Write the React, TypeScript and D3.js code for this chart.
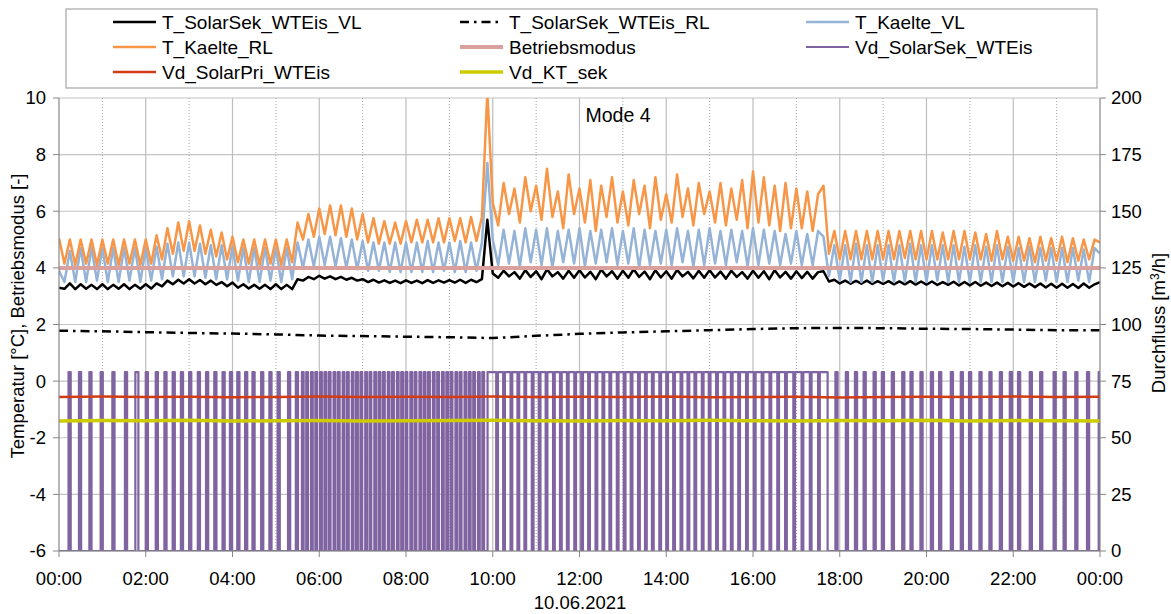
import React from "react";
import * as d3 from "d3";

// time axis: 7.5-minute samples over the day (hours)
const sampleHours = d3.range(0, 193).map((i) => i / 8);

const hourTicks = [0, 2, 4, 6, 8, 10, 12, 14, 16, 18, 20, 22, 24];
const hourLabels = ["00:00", "02:00", "04:00", "06:00", "08:00", "10:00", "12:00", "14:00", "16:00", "18:00", "20:00", "22:00", "00:00"];
const minorHours = [1, 3, 5, 7, 9, 11, 13, 15, 17, 19, 21, 23];
const tempTicks = [-6, -4, -2, 0, 2, 4, 6, 8, 10];
const flowTicks = [0, 25, 50, 75, 100, 125, 150, 175, 200];

// T_SolarSek_WTEis_VL [°C]
const solarSekVL = [
  3.3, 3.26, 3.45, 3.25, 3.42, 3.26, 3.4, 3.25,
  3.42, 3.25, 3.4, 3.26, 3.42, 3.25, 3.4, 3.26,
  3.42, 3.27, 3.45, 3.35, 3.55, 3.42, 3.58, 3.45,
  3.6, 3.45, 3.57, 3.42, 3.55, 3.4, 3.5, 3.35,
  3.48, 3.3, 3.42, 3.27, 3.4, 3.26, 3.4, 3.25,
  3.42, 3.25, 3.4, 3.25, 3.6, 3.55, 3.68, 3.6,
  3.72, 3.62, 3.7, 3.6, 3.68, 3.58, 3.65, 3.55,
  3.6, 3.5, 3.58, 3.48, 3.56, 3.47, 3.55, 3.46,
  3.56, 3.47, 3.55, 3.46, 3.57, 3.47, 3.56, 3.48,
  3.57, 3.48, 3.58, 3.47, 3.58, 3.5, 3.6, 5.7,
  3.8, 3.65, 3.9, 3.7, 3.85, 3.62, 3.92, 3.68,
  3.88, 3.6, 3.95, 3.7, 3.85, 3.62, 3.9, 3.65,
  3.92, 3.66, 3.86, 3.6, 3.94, 3.7, 3.88, 3.62,
  3.9, 3.65, 3.95, 3.68, 3.87, 3.6, 3.92, 3.66,
  3.88, 3.62, 3.93, 3.7, 3.86, 3.63, 3.9, 3.65,
  3.92, 3.66, 3.87, 3.62, 3.9, 3.68, 3.85, 3.62,
  3.9, 3.65, 3.88, 3.6, 3.92, 3.66, 3.86, 3.62,
  3.88, 3.64, 3.86, 3.62, 3.85, 3.88, 3.52, 3.58,
  3.45, 3.55, 3.44, 3.54, 3.44, 3.55, 3.43, 3.53,
  3.43, 3.53, 3.42, 3.52, 3.42, 3.53, 3.41, 3.52,
  3.41, 3.52, 3.4, 3.5, 3.4, 3.51, 3.38, 3.5,
  3.38, 3.5, 3.37, 3.48, 3.36, 3.48, 3.35, 3.47,
  3.34, 3.46, 3.33, 3.45, 3.32, 3.45, 3.31, 3.44,
  3.3, 3.44, 3.3, 3.43, 3.29, 3.45, 3.3, 3.42,
  3.5,
];

// T_SolarSek_WTEis_RL [°C], hourly
const rlHours = d3.range(0, 25);
const solarSekRL = [1.78, 1.76, 1.73, 1.7, 1.68, 1.65, 1.61, 1.59, 1.57, 1.55, 1.52, 1.6, 1.67, 1.72, 1.76, 1.8, 1.84, 1.87, 1.88, 1.87, 1.85, 1.84, 1.82, 1.8, 1.8];

// T_Kaelte_VL [°C]
const kaelteVL = [
  3.9, 3.5, 4.6, 3.5, 4.7, 3.5, 4.7, 3.55,
  4.7, 3.5, 4.7, 3.5, 4.7, 3.55, 4.7, 3.5,
  4.7, 3.55, 4.75, 3.6, 4.85, 3.7, 4.9, 3.7,
  4.9, 3.7, 4.85, 3.65, 4.8, 3.6, 4.8, 3.6,
  4.75, 3.55, 4.7, 3.5, 4.7, 3.5, 4.7, 3.55,
  4.7, 3.5, 4.7, 3.6, 4.9, 4.0, 5.0, 4.05,
  5.1, 4.1, 5.1, 4.05, 5.05, 4.0, 5.0, 3.95,
  4.95, 3.9, 4.9, 3.9, 4.9, 3.85, 4.9, 3.85,
  4.9, 3.85, 4.9, 3.85, 4.95, 3.85, 4.9, 3.9,
  4.9, 3.85, 4.95, 3.85, 4.9, 3.9, 4.9, 7.7,
  5.0, 4.1, 5.35, 4.15, 5.3, 4.05, 5.4, 4.2,
  5.35, 4.1, 5.4, 4.0, 5.3, 4.2, 5.35, 4.15,
  5.4, 4.05, 5.3, 4.15, 5.35, 4.2, 5.4, 4.1,
  5.3, 4.15, 5.4, 4.0, 5.35, 4.1, 5.3, 4.15,
  5.35, 4.1, 5.4, 4.2, 5.3, 4.05, 5.35, 4.1,
  5.4, 4.15, 5.3, 4.1, 5.35, 4.2, 5.3, 4.05,
  5.4, 4.1, 5.35, 4.15, 5.3, 4.1, 5.2, 4.15,
  5.3, 4.1, 5.2, 4.1, 5.3, 5.1, 3.7, 4.8,
  3.55, 4.8, 3.5, 4.85, 3.5, 4.8, 3.5, 4.8,
  3.55, 4.8, 3.5, 4.8, 3.5, 4.85, 3.5, 4.8,
  3.5, 4.8, 3.55, 4.8, 3.5, 4.8, 3.5, 4.75,
  3.5, 4.8, 3.5, 4.75, 3.5, 4.8, 3.5, 4.75,
  3.5, 4.7, 3.5, 4.75, 3.5, 4.7, 3.55, 4.7,
  3.5, 4.7, 3.5, 4.7, 3.55, 4.65, 3.5, 4.7,
  4.5,
];

// T_Kaelte_RL [°C]
const kaelteRL = [
  5.05, 4.15, 5.0, 4.1, 5.0, 4.15, 5.0, 4.1,
  5.0, 4.15, 5.0, 4.1, 5.0, 4.15, 5.0, 4.1,
  5.0, 4.15, 5.15, 4.3, 5.4, 4.5, 5.6, 4.6,
  5.65, 4.6, 5.5, 4.5, 5.35, 4.4, 5.25, 4.3,
  5.1, 4.2, 5.0, 4.15, 5.0, 4.1, 5.0, 4.15,
  5.0, 4.1, 5.0, 4.2, 5.6, 5.0, 5.9, 5.1,
  6.1, 5.2, 6.2, 5.15, 6.2, 5.1, 6.1, 5.0,
  5.9, 4.9, 5.75, 4.85, 5.65, 4.85, 5.6, 4.85,
  5.65, 4.9, 5.7, 4.9, 5.7, 4.9, 5.75, 4.9,
  5.75, 4.95, 5.75, 4.9, 5.8, 4.95, 5.8, 10.2,
  6.3, 5.5, 7.0, 5.9, 6.8, 5.6, 7.2, 6.0,
  6.9, 5.7, 7.5, 5.8, 6.7, 5.4, 7.3, 5.9,
  6.8, 5.6, 7.1, 5.3, 6.9, 5.8, 7.2, 5.6,
  6.7, 5.5, 7.1, 5.9, 6.9, 5.4, 7.2, 5.7,
  6.6, 5.6, 7.3, 5.8, 6.8, 5.5, 7.0, 5.9,
  6.7, 5.6, 7.0, 5.5, 6.8, 5.7, 7.1, 5.4,
  7.4, 5.6, 7.2, 5.5, 6.9, 5.3, 7.0, 5.4,
  6.8, 5.4, 6.7, 5.3, 6.6, 6.9, 4.5, 5.3,
  4.3, 5.3, 4.3, 5.3, 4.3, 5.3, 4.3, 5.3,
  4.3, 5.3, 4.3, 5.3, 4.35, 5.3, 4.3, 5.3,
  4.3, 5.3, 4.3, 5.25, 4.3, 5.3, 4.3, 5.3,
  4.3, 5.25, 4.3, 5.2, 4.25, 5.3, 4.3, 5.1,
  4.25, 5.1, 4.25, 5.05, 4.2, 5.1, 4.25, 5.05,
  4.25, 5.1, 4.2, 5.05, 4.25, 5.0, 4.3, 5.0,
  4.9,
];

// Betriebsmodus [-]
const modeHours = [0, 24];
const betriebsmodus = [4, 4];

// Vd_SolarSek_WTEis: pump on-intervals [start h, end h], flow when on [m³/h]
const solarSekOnFlow = 79;
const solarSekOn: [number, number][] = [
  [0.22, 0.27], [0.46, 0.51], [0.7, 0.75], [0.96, 1.01], [1.23, 1.28], [1.52, 1.57], [1.76, 1.83], [2.0, 2.05],
  [2.23, 2.28], [2.43, 2.48], [2.62, 2.67], [2.81, 2.86], [3.0, 3.05], [3.2, 3.25], [3.39, 3.44], [3.58, 3.63],
  [3.77, 3.82], [3.94, 3.99], [4.11, 4.16], [4.29, 4.34], [4.46, 4.51], [4.66, 4.71], [4.85, 4.9], [5.04, 5.09],
  [5.28, 5.33], [5.46, 5.51],
  [5.6, 5.64], [5.7, 5.74], [5.81, 5.85], [5.91, 5.95], [6.02, 6.06], [6.12, 6.16], [6.22, 6.26], [6.33, 6.37],
  [6.43, 6.47], [6.54, 6.58], [6.64, 6.68], [6.75, 6.79], [6.85, 6.89], [6.95, 6.99], [7.06, 7.1], [7.16, 7.2],
  [7.27, 7.31], [7.37, 7.41], [7.47, 7.51], [7.58, 7.62], [7.68, 7.72], [7.79, 7.83], [7.89, 7.93], [7.99, 8.03],
  [8.1, 8.14], [8.2, 8.24], [8.31, 8.35], [8.41, 8.45], [8.51, 8.55], [8.62, 8.66], [8.72, 8.76], [8.83, 8.87],
  [8.93, 8.97], [9.03, 9.07], [9.14, 9.18], [9.24, 9.28], [9.35, 9.39], [9.45, 9.49], [9.55, 9.59], [9.66, 9.7],
  [9.76, 9.8],
  [9.88, 10.08], [10.12, 10.24], [10.28, 10.41], [10.45, 10.57], [10.61, 10.73], [10.77, 10.9], [10.94, 11.06],
  [11.1, 11.22], [11.26, 11.39], [11.43, 11.55], [11.59, 11.71], [11.75, 11.88], [11.92, 12.04], [12.08, 12.2],
  [12.24, 12.37], [12.41, 12.53], [12.57, 12.69], [12.73, 12.86], [12.9, 13.02], [13.06, 13.18], [13.22, 13.35],
  [13.39, 13.51], [13.55, 13.67], [13.71, 13.84], [13.88, 14.0], [14.04, 14.16], [14.2, 14.33], [14.37, 14.49],
  [14.53, 14.65], [14.69, 14.82], [14.86, 14.98], [15.02, 15.15], [15.19, 15.32], [15.36, 15.49], [15.53, 15.66],
  [15.7, 15.84], [15.88, 16.02], [16.06, 16.2], [16.24, 16.38], [16.42, 16.56], [16.6, 16.74], [16.78, 16.93],
  [16.97, 17.12], [17.16, 17.31], [17.35, 17.5], [17.54, 17.72],
  [17.9, 17.95], [18.14, 18.19], [18.35, 18.4], [18.55, 18.6], [18.78, 18.83], [18.97, 19.02], [19.2, 19.25],
  [19.44, 19.49], [19.63, 19.68], [19.86, 19.91], [20.1, 20.15], [20.29, 20.34], [20.56, 20.61], [20.79, 20.84],
  [20.98, 21.03], [21.22, 21.27], [21.45, 21.5], [21.69, 21.74], [21.92, 21.97], [22.11, 22.16], [22.38, 22.43],
  [22.62, 22.67], [22.93, 22.98], [23.16, 23.21], [23.43, 23.48], [23.7, 23.75], [23.97, 24.0],
];

// Vd_SolarPri_WTEis and Vd_KT_sek [m³/h], hourly
const flowHours = d3.range(0, 25);
const solarPriFlow = [68, 68.2, 68, 68.1, 67.9, 68, 68.2, 68, 68.1, 68, 68.2, 68, 68.1, 68, 68.2, 67.9, 68, 68.1, 67.8, 68, 68.1, 68, 68.2, 68, 68.1];
const ktSekFlow = [57.4, 57.6, 57.5, 57.7, 57.4, 57.5, 57.6, 57.4, 57.5, 57.6, 57.7, 57.5, 57.4, 57.6, 57.5, 57.7, 57.5, 57.4, 57.6, 57.5, 57.7, 57.4, 57.6, 57.5, 57.4];

const W = 1171;
const H = 614;
const left = 59;
const right = 1100;
const top = 98;
const bottom = 551;
const font = "'Liberation Sans', Arial, sans-serif";

const x = d3.scaleLinear().domain([0, 24]).range([left, right]);
const yT = d3.scaleLinear().domain([-6, 10]).range([bottom, top]);
const yF = d3.scaleLinear().domain([0, 200]).range([bottom, top]);

type Pt = [number, number];
const line = d3.line<Pt>().x((d) => x(d[0])).y((d) => d[1]);

function temps(hs: number[], vs: number[]) {
  return line(hs.map((h, i) => [h, yT(vs[i])] as Pt)) || "";
}
function flows(hs: number[], vs: number[]) {
  return line(hs.map((h, i) => [h, yF(vs[i])] as Pt)) || "";
}
function pulses(on: [number, number][], v: number) {
  const pts: Pt[] = [[0, yF(0)]];
  on.forEach(([s, e]) => {
    pts.push([s, yF(0)], [s, yF(v)], [e, yF(v)], [e, yF(0)]);
  });
  return line(pts) || "";
}

const series = [
  { name: "T_SolarSek_WTEis_VL", color: "#000000", width: 2.5, dash: "", d: temps(sampleHours, solarSekVL) },
  { name: "T_SolarSek_WTEis_RL", color: "#000000", width: 2.5, dash: "9,5,2.5,5", d: temps(rlHours, solarSekRL) },
  { name: "T_Kaelte_VL", color: "#95b3d7", width: 2.5, dash: "", d: temps(sampleHours, kaelteVL) },
  { name: "T_Kaelte_RL", color: "#f79646", width: 2.5, dash: "", d: temps(sampleHours, kaelteRL) },
  { name: "Betriebsmodus", color: "#d9a09e", width: 4, dash: "", d: temps(modeHours, betriebsmodus) },
  { name: "Vd_SolarSek_WTEis", color: "#8064a2", width: 2.2, dash: "", d: pulses(solarSekOn, solarSekOnFlow) },
  { name: "Vd_SolarPri_WTEis", color: "#d23c14", width: 2.5, dash: "", d: flows(flowHours, solarPriFlow) },
  { name: "Vd_KT_sek", color: "#cccc00", width: 3.5, dash: "", d: flows(flowHours, ktSekFlow) },
];

const legendCols = [113, 460, 806];
const legendRows = [22, 47, 72];
const fs = 18.5;

export default function App() {
  return (
    <svg width={W} height={H} style={{ position: "absolute", left: 0, top: 0 }} fontFamily={font}>
      <rect width={W} height={H} fill="#fff" />
      <defs>
        <clipPath id="plot">
          <rect x={left} y={top} width={right - left} height={bottom - top} />
        </clipPath>
      </defs>

      {/* grid */}
      {tempTicks.map((t) => (
        <line key={"h" + t} x1={left} x2={right} y1={yT(t)} y2={yT(t)} stroke="#c4c4c4" strokeWidth={1.2} />
      ))}
      {minorHours.map((h) => (
        <line key={"m" + h} x1={x(h)} x2={x(h)} y1={top} y2={bottom} stroke="#a6a6a6" strokeWidth={1} strokeDasharray="1,2" />
      ))}
      {hourTicks.slice(1, -1).map((h) => (
        <line key={"v" + h} x1={x(h)} x2={x(h)} y1={top} y2={bottom} stroke="#bdbdbd" strokeWidth={1.2} />
      ))}

      {/* series */}
      <g clipPath="url(#plot)">
        {series.map((s) => (
          <path key={s.name} d={s.d} fill="none" stroke={s.color} strokeWidth={s.width} strokeDasharray={s.dash || undefined} strokeLinejoin="round" />
        ))}
      </g>

      {/* axes */}
      <line x1={left} x2={left} y1={top} y2={bottom} stroke="#868686" strokeWidth={1.2} />
      <line x1={right} x2={right} y1={top} y2={bottom} stroke="#868686" strokeWidth={1.2} />
      <line x1={left} x2={right} y1={bottom} y2={bottom} stroke="#868686" strokeWidth={1.2} />
      {tempTicks.map((t) => (
        <g key={"lt" + t}>
          <line x1={left - 6} x2={left} y1={yT(t)} y2={yT(t)} stroke="#868686" />
          <text x={left - 13} y={yT(t)} dy="0.35em" textAnchor="end" fontSize={fs}>{t}</text>
        </g>
      ))}
      {flowTicks.map((t) => (
        <g key={"rt" + t}>
          <line x1={right} x2={right + 6} y1={yF(t)} y2={yF(t)} stroke="#868686" />
          <text x={right + 11} y={yF(t)} dy="0.35em" textAnchor="start" fontSize={fs}>{t}</text>
        </g>
      ))}
      {hourTicks.map((h, i) => (
        <g key={"xt" + i}>
          <line x1={x(h)} x2={x(h)} y1={bottom} y2={bottom + 6} stroke="#868686" />
          <text x={x(h)} y={585} textAnchor="middle" fontSize={fs}>{hourLabels[i]}</text>
        </g>
      ))}
      <text x={580} y={609} textAnchor="middle" fontSize={fs}>10.06.2021</text>
      <text transform={`translate(24,${316}) rotate(-90)`} textAnchor="middle" fontSize={fs}>Temperatur [°C], Betriebsmodus [-]</text>
      <text transform={`translate(1165,${323}) rotate(-90)`} textAnchor="middle" fontSize={fs}>
        Durchfluss [m<tspan dy={-6} fontSize={12}>3</tspan><tspan dy={6}>/h]</tspan>
      </text>
      <text x={618} y={122} textAnchor="middle" fontSize={19.5}>Mode 4</text>

      {/* legend */}
      <rect x={66} y={9} width={1031} height={79} fill="#fff" stroke="#a6a6a6" strokeWidth={1.2} />
      {series.map((s, i) => {
        const cx = legendCols[i % 3];
        const cy = legendRows[Math.floor(i / 3)];
        return (
          <g key={"lg" + s.name}>
            <line x1={cx} x2={cx + 43} y1={cy} y2={cy} stroke={s.color} strokeWidth={s.width} strokeDasharray={s.dash || undefined} />
            <text x={cx + 49} y={cy} dy="0.35em" fontSize={19}>{s.name}</text>
          </g>
        );
      })}
    </svg>
  );
}
